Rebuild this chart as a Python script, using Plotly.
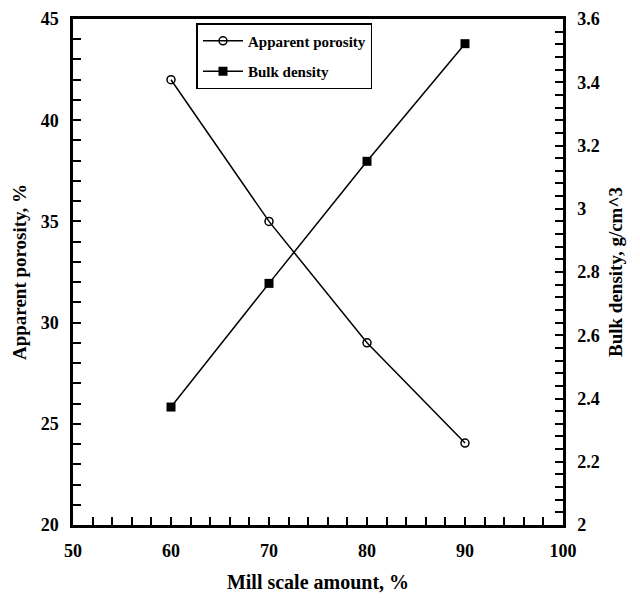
import plotly.graph_objects as go

mill_scale = [60, 70, 80, 90]
apparent_porosity = [42.0, 35.0, 29.0, 24.05]
bulk_density = [2.373, 2.764, 3.150, 3.522]

x_ticks = [50, 60, 70, 80, 90, 100]
y1_ticks = [20, 25, 30, 35, 40, 45]
y2_ticks = [2, 2.2, 2.4, 2.6, 2.8, 3, 3.2, 3.4, 3.6]

FONT = "Liberation Serif"

def bold(vals):
    return ["<b>%g</b>" % v for v in vals]

fig = go.Figure()
fig.add_trace(go.Scatter(
    x=mill_scale, y=apparent_porosity, name="<b>Apparent porosity</b>",
    mode="lines+markers", legendgroup="a",
    line=dict(color="black", width=1.5),
    marker=dict(symbol="circle-open", size=8, color="black", line=dict(width=1.5)),
))
fig.add_trace(go.Scatter(
    x=mill_scale, y=bulk_density, name="<b>Bulk density</b>",
    mode="lines+markers", yaxis="y2", legendgroup="b",
    line=dict(color="black", width=1.5),
    marker=dict(symbol="square", size=9, color="black"),
))

def fnt(size, weight="normal"):
    return dict(family=FONT, size=size, color="black", weight=weight)

axis_common = dict(
    showline=True, linecolor="black", linewidth=2.5,
    ticks="inside", ticklen=8, tickwidth=1.5, tickcolor="black",
    showgrid=False, zeroline=False, automargin=False,
    tickfont=fnt(18, "bold"), ticklabeloverflow="allow",
)

fig.update_layout(
    width=640, height=598,
    paper_bgcolor="white", plot_bgcolor="white",
    margin=dict(l=65, r=85, t=11, b=81),
    showlegend=True,
    legend=dict(
        x=0.252, y=0.992, xanchor="left", yanchor="top",
        bordercolor="black", borderwidth=1.5, bgcolor="white",
        font=fnt(15, "bold"),
        tracegroupgap=8, itemwidth=40,
    ),
    xaxis=dict(
        range=[50, 100], tickvals=x_ticks, ticktext=bold(x_ticks),
        minor=dict(dtick=2, tick0=50, ticks="inside", ticklen=8, tickcolor="black", tickwidth=1.5),
        mirror=True,
        title=dict(text="<b>Mill scale amount, %</b>", standoff=15, font=fnt(20)),
        ticklabelstandoff=8,
        **axis_common,
    ),
    yaxis=dict(
        range=[20, 45], tickvals=y1_ticks, ticktext=bold(y1_ticks),
        minor=dict(dtick=1, tick0=20, ticks="inside", ticklen=8, tickcolor="black", tickwidth=1.5),
        title=dict(text="<b>Apparent porosity, %</b>", standoff=10, font=fnt(19)),
        ticklabelstandoff=8,
        **axis_common,
    ),
    yaxis2=dict(
        range=[2, 3.6], tickvals=y2_ticks, ticktext=bold(y2_ticks),
        minor=dict(dtick=0.04, tick0=2, ticks="inside", ticklen=8, tickcolor="black", tickwidth=1.5),
        overlaying="y", side="right",
        title=dict(text="<b>Bulk density, g/cm^3</b>", standoff=10, font=fnt(19)),
        ticklabelstandoff=8,
        **axis_common,
    ),
)

fig.write_html("out.html")
